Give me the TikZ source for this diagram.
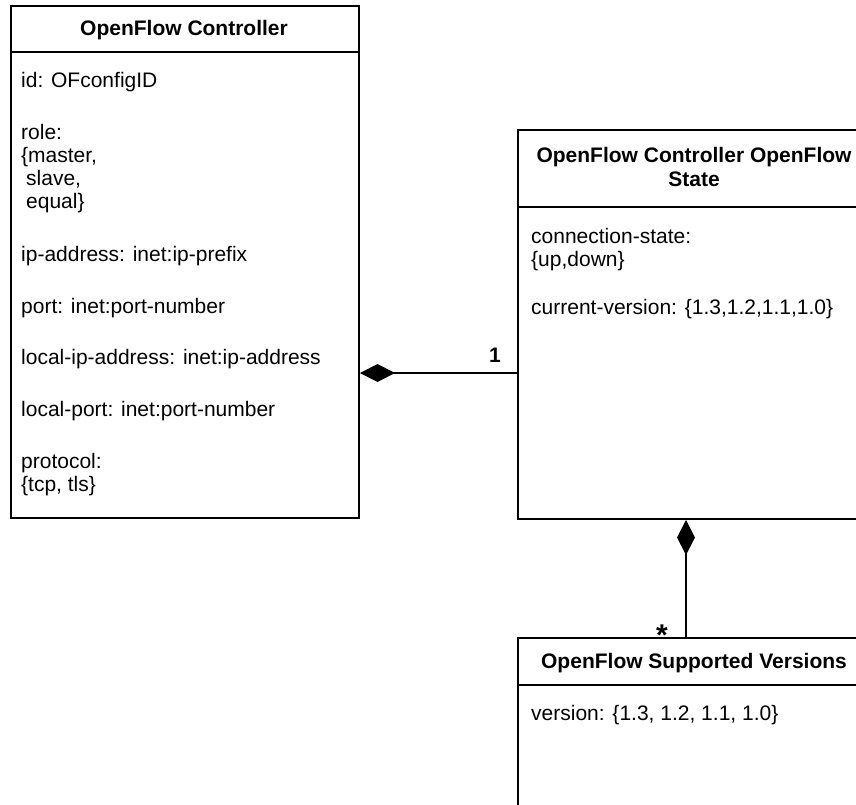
\documentclass[tikz,border=0pt]{standalone}
\usepackage{fontspec}
\setmainfont{Liberation Sans}
\usetikzlibrary{arrows.meta}
\begin{document}
\begin{tikzpicture}[x=1pt,y=-1pt,
  umlbox/.style={draw=black,line width=2pt,anchor=north west,inner sep=0pt,rectangle},
  sepline/.style={draw=black,line width=2pt},
  txt/.style={anchor=base west,inner sep=0pt,font=\fontsize{21}{23}\selectfont},
  ttl/.style={anchor=base,inner sep=0pt,font=\fontsize{21}{24}\selectfont\bfseries},
  mult/.style={anchor=base,inner sep=0pt,font=\fontsize{21}{24}\selectfont\bfseries},
  compo/.style={draw=black,line width=1.5pt,{Diamond[length=35pt,width=18pt]}-}
]
\useasboundingbox (0,0) rectangle (856,804);
\clip (0,0) rectangle (856,804);
\fill[white] (0,0) rectangle (856,804);

% OpenFlow Controller
\node[umlbox,minimum width=348pt,minimum height=512pt] (ctrl) at (10,5) {};
\coordinate (h1) at (0,52);
\draw[sepline] (ctrl.west |- h1) -- (ctrl.east |- h1);
\node[ttl] (ctrlt) at (184,35.5) {OpenFlow Controller};
\node[txt] (c1) at (21,87.5) {id: OFconfigID};
\node[txt] (c2) at (21,139.5) {role:};
\node[txt] (c3) at (21,162.5) {\{master,};
\node[txt] (c4) at (26,185.5) {slave,};
\node[txt] (c5) at (26,208.5) {equal\}};
\node[txt] (c6) at (21,261.5) {ip-address: inet:ip-prefix};
\node[txt] (c7) at (21,313.5) {port: inet:port-number};
\node[txt] (c8) at (21,364.5) {local-ip-address: inet:ip-address};
\node[txt] (c9) at (21,416.5) {local-port: inet:port-number};
\node[txt] (c10) at (21,468.5) {protocol:};
\node[txt] (c11) at (21,491.5) {\{tcp, tls\}};

% OpenFlow Controller OpenFlow State
\node[umlbox,minimum width=354pt,minimum height=389pt] (state) at (517,129) {};
\coordinate (h2) at (0,207);
\draw[sepline] (state.west |- h2) -- (state.east |- h2);
\node[ttl] (statet1) at (694,162.5) {OpenFlow Controller OpenFlow};
\node[ttl] (statet2) at (694,186.5) {State};
\node[txt] (s1) at (531,243.5) {connection-state:};
\node[txt] (s2) at (531,266.5) {\{up,down\}};
\node[txt] (s3) at (531,314.5) {current-version: \{1.3,1.2,1.1,1.0\}};

% OpenFlow Supported Versions
\node[umlbox,minimum width=354pt,minimum height=200pt] (vers) at (517,637) {};
\coordinate (h3) at (0,685);
\draw[sepline] (vers.west |- h3) -- (vers.east |- h3);
\node[ttl] (verst) at (694,668.5) {OpenFlow Supported Versions};
\node[txt] (v1) at (531,720.5) {version: \{1.3, 1.2, 1.1, 1.0\}};

% connectors
\coordinate (j1) at (0,373);
\draw[compo] (ctrl.east |- j1) -- (state.west |- j1);
\node[mult] (m1) at (495,362.5) {1};
\coordinate (j2) at (686,0);
\draw[compo] (state.south -| j2) -- (vers.north -| j2);
\node[mult,font=\fontsize{30}{30}\selectfont\bfseries] (m2) at (662,645) {*};
\end{tikzpicture}
\end{document}
